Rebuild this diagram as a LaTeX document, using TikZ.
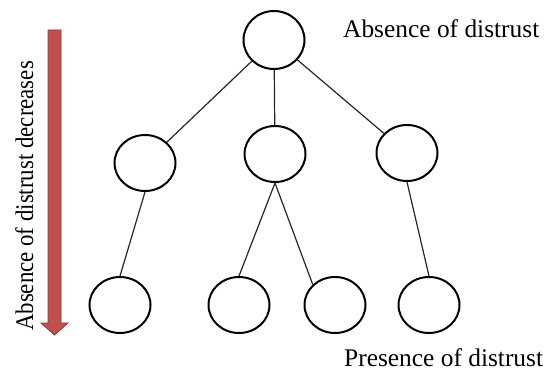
\documentclass[tikz,border=0pt]{standalone}
\usepackage{fontspec}
\setmainfont{Liberation Serif}
\usetikzlibrary{shapes.geometric}
\definecolor{arrowred}{RGB}{192,80,77}
\definecolor{arrowedge}{RGB}{150,55,52}
\begin{document}
\begin{tikzpicture}[x=1pt,y=-1pt,
  vertex/.style={ellipse, draw, line width=2pt, minimum width=61pt,
    minimum height=56pt, inner sep=0pt},
  link/.style={line width=1.2pt, black!85},
  tag/.style={font=\fontsize{25.4}{30}\selectfont, inner sep=0pt}]
  \useasboundingbox (0,0) rectangle (546,374);
  % Levels of the tree
  \node[vertex, minimum height=58pt] (top) at (274,40) {};
  \foreach \name/\xpos/\ypos in {m1/145/163, m2/275/154, m3/407/153,
     b1/120/305, b2/239/305, b3/335/305, b4/429/305}
    \node[vertex] (\name) at (\xpos,\ypos) {};
  % Links
  \foreach \target in {m1,m2,m3}
    \draw[link] (top) -- (\target);
  \draw[link] (m1.south) -- (b1.north);
  \draw[link] (m2.south) -- (b2.north);
  \draw[link] (m2.south) -- (b3.north west);
  \draw[link] (m3.south) -- (b4.north);
  % Direction arrow
  \filldraw[fill=arrowred, draw=arrowedge, line width=0.8pt]
    (48,30) -- (61,30) -- (61,323) -- (68,323) -- (54.5,335)
    -- (41,323) -- (48,323) -- cycle;
  % Labels
  \node[tag, anchor=base west] (absence) at (343,38) {Absence of distrust};
  \node[tag, anchor=base west] (presence) at (344,366) {Presence of distrust};
  \node[tag, rotate=90, anchor=base] (decrease) at (33,196)
    {\scalebox{0.9}[1]{Absence of distrust decreases}};
\end{tikzpicture}
\end{document}
